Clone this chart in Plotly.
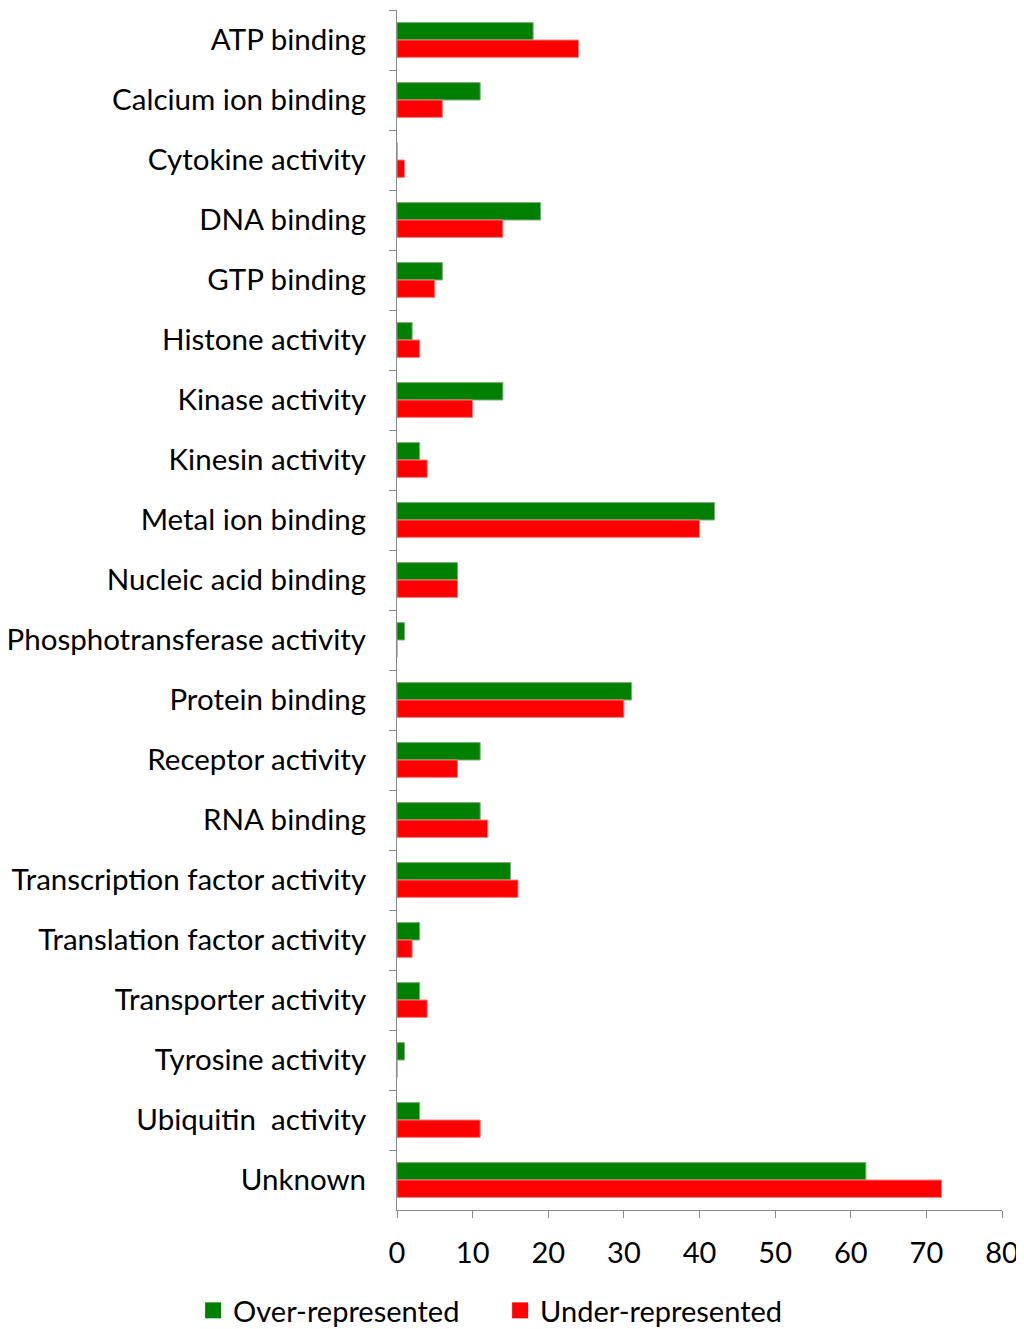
import plotly.graph_objects as go

categories = ["ATP binding", "Calcium ion binding", "Cytokine activity", "DNA binding",
              "GTP binding", "Histone activity", "Kinase activity", "Kinesin activity",
              "Metal ion binding", "Nucleic acid binding", "Phosphotransferase activity",
              "Protein binding", "Receptor activity", "RNA binding",
              "Transcription factor activity", "Translation factor activity",
              "Transporter activity", "Tyrosine activity", "Ubiquitin  activity", "Unknown"]
over_represented = [18, 11, 0, 19, 6, 2, 14, 3, 42, 8, 1, 31, 11, 11, 15, 3, 3, 1, 3, 62]
under_represented = [24, 6, 1, 14, 5, 3, 10, 4, 40, 8, 0, 30, 8, 12, 16, 2, 4, 0, 11, 72]
series_names = ["Over-represented", "Under-represented"]
x_ticks = [0, 10, 20, 30, 40, 50, 60, 70, 80]

FONT = "Lato"
GREEN = "#008000"
RED = "#FF0000"

fig = go.Figure()
fig.add_trace(go.Bar(y=categories, x=over_represented, orientation="h", name=series_names[0],
                     showlegend=False,
                     marker=dict(color=GREEN, line=dict(color="#7faa7f", width=1))))
fig.add_trace(go.Bar(y=categories, x=under_represented, orientation="h", name=series_names[1],
                     showlegend=False,
                     marker=dict(color=RED, line=dict(color="#f08080", width=1))))
# legend entries with larger square swatches
for nm, col in zip(series_names, [GREEN, RED]):
    fig.add_trace(go.Scatter(x=[None], y=[None], mode="markers", name=nm,
                             marker=dict(symbol="square", size=19, color=col)))

fig.update_layout(
    width=1016, height=1321,
    margin=dict(l=389, r=22, t=2, b=119, autoexpand=False),
    paper_bgcolor="white", plot_bgcolor="white",
    barmode="group", bargap=0.42, bargroupgap=0,
    font=dict(family=FONT, size=29.5, color="black"),
    showlegend=True,
    legend=dict(orientation="h", x=-0.337, xanchor="left", y=-0.0625, yanchor="top",
                font=dict(size=29), itemwidth=30, traceorder="normal",
                entrywidth=262, entrywidthmode="pixels"),
)
fig.update_yaxes(autorange="reversed", type="category", tickson="boundaries",
                 ticks="outside", ticklen=7, tickcolor="#888", showline=True,
                 linecolor="#888", linewidth=1, showgrid=False, ticklabelstandoff=24,
                 automargin=False)
fig.update_xaxes(range=[0, 80], tickvals=x_ticks, ticks="outside", ticklen=7, tickcolor="#888",
                 showline=True, linecolor="#888", linewidth=1, showgrid=False, zeroline=False,
                 ticklabelstandoff=10, automargin=False, tickfont=dict(size=29))

fig.write_html("out.html")
